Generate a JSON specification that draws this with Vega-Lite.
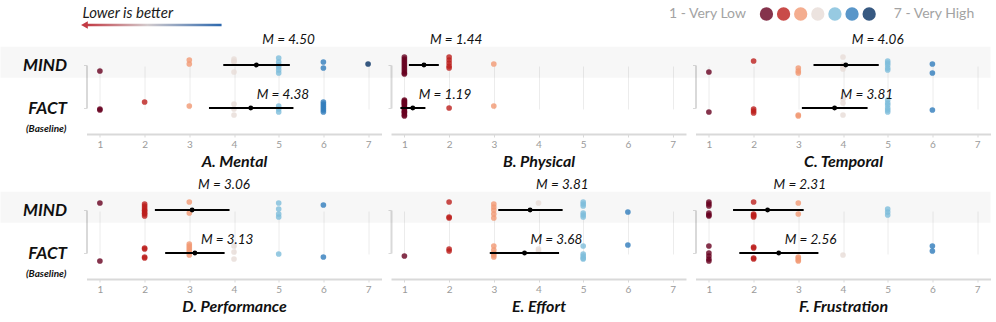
{
"$schema": "https://vega.github.io/schema/vega-lite/v6.json",
"autosize": {"type": "pad"},
"padding": {"left": -15.5, "top": 0, "right": 0, "bottom": 0},
"background": "white",
"datasets": {
"dots": [
{"p":"A","c":"MIND","v":1,"j":6},{"p":"A","c":"MIND","v":3,"j":-5},{"p":"A","c":"MIND","v":3,"j":-1},{"p":"A","c":"MIND","v":4,"j":-6},{"p":"A","c":"MIND","v":4,"j":-3},{"p":"A","c":"MIND","v":4,"j":-4},{"p":"A","c":"MIND","v":4,"j":7},{"p":"A","c":"MIND","v":5,"j":-7},{"p":"A","c":"MIND","v":5,"j":-3},{"p":"A","c":"MIND","v":5,"j":0},{"p":"A","c":"MIND","v":5,"j":2},{"p":"A","c":"MIND","v":5,"j":5},{"p":"A","c":"MIND","v":5,"j":8},{"p":"A","c":"MIND","v":6,"j":-3},{"p":"A","c":"MIND","v":6,"j":3},{"p":"A","c":"MIND","v":7,"j":-1},
{"p":"A","c":"FACT","v":1,"j":2},{"p":"A","c":"FACT","v":1,"j":1},{"p":"A","c":"FACT","v":2,"j":-6},{"p":"A","c":"FACT","v":3,"j":-2},{"p":"A","c":"FACT","v":4,"j":-4},{"p":"A","c":"FACT","v":4,"j":1},{"p":"A","c":"FACT","v":4,"j":7},{"p":"A","c":"FACT","v":5,"j":-2},{"p":"A","c":"FACT","v":5,"j":1},{"p":"A","c":"FACT","v":5,"j":4},{"p":"A","c":"FACT","v":6,"j":-6},{"p":"A","c":"FACT","v":6,"j":-4},{"p":"A","c":"FACT","v":6,"j":-2},{"p":"A","c":"FACT","v":6,"j":0},{"p":"A","c":"FACT","v":6,"j":2},{"p":"A","c":"FACT","v":6,"j":4},
{"p":"B","c":"MIND","v":1,"j":-8},{"p":"B","c":"MIND","v":1,"j":-6},{"p":"B","c":"MIND","v":1,"j":-4},{"p":"B","c":"MIND","v":1,"j":-2},{"p":"B","c":"MIND","v":1,"j":0},{"p":"B","c":"MIND","v":1,"j":2},{"p":"B","c":"MIND","v":1,"j":4},{"p":"B","c":"MIND","v":1,"j":6},{"p":"B","c":"MIND","v":1,"j":8},{"p":"B","c":"MIND","v":1,"j":9},{"p":"B","c":"MIND","v":2,"j":-8},{"p":"B","c":"MIND","v":2,"j":-5},{"p":"B","c":"MIND","v":2,"j":-2},{"p":"B","c":"MIND","v":2,"j":1},{"p":"B","c":"MIND","v":2,"j":3},{"p":"B","c":"MIND","v":3,"j":-1},
{"p":"B","c":"FACT","v":1,"j":-8},{"p":"B","c":"FACT","v":1,"j":-7},{"p":"B","c":"FACT","v":1,"j":-6},{"p":"B","c":"FACT","v":1,"j":-5},{"p":"B","c":"FACT","v":1,"j":-4},{"p":"B","c":"FACT","v":1,"j":-3},{"p":"B","c":"FACT","v":1,"j":-1},{"p":"B","c":"FACT","v":1,"j":0},{"p":"B","c":"FACT","v":1,"j":1},{"p":"B","c":"FACT","v":1,"j":3},{"p":"B","c":"FACT","v":1,"j":4},{"p":"B","c":"FACT","v":1,"j":5},{"p":"B","c":"FACT","v":1,"j":7},{"p":"B","c":"FACT","v":1,"j":8},{"p":"B","c":"FACT","v":2,"j":0},{"p":"B","c":"FACT","v":3,"j":-2},
{"p":"C","c":"MIND","v":1,"j":7},{"p":"C","c":"MIND","v":2,"j":-4},{"p":"C","c":"MIND","v":3,"j":3},{"p":"C","c":"MIND","v":3,"j":6},{"p":"C","c":"MIND","v":3,"j":8},{"p":"C","c":"MIND","v":4,"j":-8},{"p":"C","c":"MIND","v":4,"j":0},{"p":"C","c":"MIND","v":4,"j":2},{"p":"C","c":"MIND","v":4,"j":4},{"p":"C","c":"MIND","v":5,"j":-4},{"p":"C","c":"MIND","v":5,"j":-2},{"p":"C","c":"MIND","v":5,"j":0},{"p":"C","c":"MIND","v":5,"j":3},{"p":"C","c":"MIND","v":5,"j":5},{"p":"C","c":"MIND","v":6,"j":-1},{"p":"C","c":"MIND","v":6,"j":8},
{"p":"C","c":"FACT","v":1,"j":4},{"p":"C","c":"FACT","v":2,"j":1},{"p":"C","c":"FACT","v":2,"j":3},{"p":"C","c":"FACT","v":2,"j":5},{"p":"C","c":"FACT","v":3,"j":7},{"p":"C","c":"FACT","v":3,"j":8},{"p":"C","c":"FACT","v":4,"j":-9},{"p":"C","c":"FACT","v":4,"j":-5},{"p":"C","c":"FACT","v":4,"j":7},{"p":"C","c":"FACT","v":5,"j":-8},{"p":"C","c":"FACT","v":5,"j":-5},{"p":"C","c":"FACT","v":5,"j":-3},{"p":"C","c":"FACT","v":5,"j":0},{"p":"C","c":"FACT","v":5,"j":2},{"p":"C","c":"FACT","v":5,"j":4},{"p":"C","c":"FACT","v":6,"j":2},
{"p":"D","c":"MIND","v":1,"j":-7},{"p":"D","c":"MIND","v":2,"j":-6},{"p":"D","c":"MIND","v":2,"j":-4},{"p":"D","c":"MIND","v":2,"j":-2},{"p":"D","c":"MIND","v":2,"j":0},{"p":"D","c":"MIND","v":2,"j":1},{"p":"D","c":"MIND","v":2,"j":3},{"p":"D","c":"MIND","v":2,"j":4},{"p":"D","c":"MIND","v":2,"j":6},{"p":"D","c":"MIND","v":3,"j":-8},{"p":"D","c":"MIND","v":3,"j":3},{"p":"D","c":"MIND","v":5,"j":-7},{"p":"D","c":"MIND","v":5,"j":-1},{"p":"D","c":"MIND","v":5,"j":4},{"p":"D","c":"MIND","v":5,"j":7},{"p":"D","c":"MIND","v":6,"j":-5},
{"p":"D","c":"FACT","v":1,"j":8},{"p":"D","c":"FACT","v":2,"j":-5},{"p":"D","c":"FACT","v":2,"j":-4},{"p":"D","c":"FACT","v":2,"j":4},{"p":"D","c":"FACT","v":2,"j":5},{"p":"D","c":"FACT","v":3,"j":-9},{"p":"D","c":"FACT","v":3,"j":-7},{"p":"D","c":"FACT","v":3,"j":-5},{"p":"D","c":"FACT","v":3,"j":-3},{"p":"D","c":"FACT","v":3,"j":-1},{"p":"D","c":"FACT","v":3,"j":2},{"p":"D","c":"FACT","v":4,"j":-7},{"p":"D","c":"FACT","v":4,"j":-1},{"p":"D","c":"FACT","v":4,"j":6},{"p":"D","c":"FACT","v":5,"j":1},{"p":"D","c":"FACT","v":6,"j":4},
{"p":"E","c":"MIND","v":2,"j":-8},{"p":"E","c":"MIND","v":2,"j":7},{"p":"E","c":"MIND","v":2,"j":8},{"p":"E","c":"MIND","v":3,"j":-6},{"p":"E","c":"MIND","v":3,"j":-3},{"p":"E","c":"MIND","v":3,"j":0},{"p":"E","c":"MIND","v":3,"j":4},{"p":"E","c":"MIND","v":3,"j":8},{"p":"E","c":"MIND","v":4,"j":-7},{"p":"E","c":"MIND","v":5,"j":-8},{"p":"E","c":"MIND","v":5,"j":-6},{"p":"E","c":"MIND","v":5,"j":-4},{"p":"E","c":"MIND","v":5,"j":3},{"p":"E","c":"MIND","v":5,"j":5},{"p":"E","c":"MIND","v":5,"j":7},{"p":"E","c":"MIND","v":6,"j":2},
{"p":"E","c":"FACT","v":1,"j":3},{"p":"E","c":"FACT","v":2,"j":-4},{"p":"E","c":"FACT","v":2,"j":-2},{"p":"E","c":"FACT","v":3,"j":-7},{"p":"E","c":"FACT","v":3,"j":-3},{"p":"E","c":"FACT","v":3,"j":0},{"p":"E","c":"FACT","v":3,"j":2},{"p":"E","c":"FACT","v":3,"j":4},{"p":"E","c":"FACT","v":4,"j":-4},{"p":"E","c":"FACT","v":4,"j":-2},{"p":"E","c":"FACT","v":5,"j":-7},{"p":"E","c":"FACT","v":5,"j":1},{"p":"E","c":"FACT","v":5,"j":3},{"p":"E","c":"FACT","v":5,"j":5},{"p":"E","c":"FACT","v":5,"j":6},{"p":"E","c":"FACT","v":6,"j":-8},
{"p":"F","c":"MIND","v":1,"j":-8},{"p":"F","c":"MIND","v":1,"j":-6},{"p":"F","c":"MIND","v":1,"j":-4},{"p":"F","c":"MIND","v":1,"j":3},{"p":"F","c":"MIND","v":1,"j":5},{"p":"F","c":"MIND","v":1,"j":6},{"p":"F","c":"MIND","v":2,"j":-8},{"p":"F","c":"MIND","v":2,"j":4},{"p":"F","c":"MIND","v":2,"j":5},{"p":"F","c":"MIND","v":2,"j":6},{"p":"F","c":"MIND","v":2,"j":7},{"p":"F","c":"MIND","v":3,"j":-7},{"p":"F","c":"MIND","v":3,"j":4},{"p":"F","c":"MIND","v":5,"j":-1},{"p":"F","c":"MIND","v":5,"j":2},{"p":"F","c":"MIND","v":5,"j":5},
{"p":"F","c":"FACT","v":1,"j":-7},{"p":"F","c":"FACT","v":1,"j":0},{"p":"F","c":"FACT","v":1,"j":3},{"p":"F","c":"FACT","v":1,"j":6},{"p":"F","c":"FACT","v":1,"j":8},{"p":"F","c":"FACT","v":2,"j":-6},{"p":"F","c":"FACT","v":2,"j":-5},{"p":"F","c":"FACT","v":2,"j":5},{"p":"F","c":"FACT","v":2,"j":6},{"p":"F","c":"FACT","v":3,"j":4},{"p":"F","c":"FACT","v":3,"j":5},{"p":"F","c":"FACT","v":3,"j":7},{"p":"F","c":"FACT","v":3,"j":8},{"p":"F","c":"FACT","v":4,"j":2},{"p":"F","c":"FACT","v":6,"j":-7},{"p":"F","c":"FACT","v":6,"j":-2}
],
"stats": [
{"p":"A","c":"MIND","m":4.5,"lo":3.76,"hi":5.25,"lab":"M = 4.50"},
{"p":"A","c":"FACT","m":4.375,"lo":3.44,"hi":5.33,"lab":"M = 4.38"},
{"p":"B","c":"MIND","m":1.4375,"lo":1.1,"hi":1.77,"lab":"M = 1.44"},
{"p":"B","c":"FACT","m":1.1875,"lo":0.91,"hi":1.47,"lab":"M = 1.19"},
{"p":"C","c":"MIND","m":4.0625,"lo":3.34,"hi":4.8,"lab":"M = 4.06"},
{"p":"C","c":"FACT","m":3.8125,"lo":3.08,"hi":4.55,"lab":"M = 3.81"},
{"p":"D","c":"MIND","m":3.0625,"lo":2.23,"hi":3.9,"lab":"M = 3.06"},
{"p":"D","c":"FACT","m":3.125,"lo":2.46,"hi":3.79,"lab":"M = 3.13"},
{"p":"E","c":"MIND","m":3.8125,"lo":3.1,"hi":4.54,"lab":"M = 3.81"},
{"p":"E","c":"FACT","m":3.6875,"lo":2.91,"hi":4.46,"lab":"M = 3.68"},
{"p":"F","c":"MIND","m":2.3125,"lo":1.54,"hi":3.12,"lab":"M = 2.31"},
{"p":"F","c":"FACT","m":2.5625,"lo":1.68,"hi":3.45,"lab":"M = 2.56"}
]
},
"bounds": "flush",
"spacing": 10,
"vconcat": [
{
"width": 903, "height": 30,
"layer": [
{"data": {"values": [{"v":1},{"v":2},{"v":3},{"v":4},{"v":5},{"v":6},{"v":7}]},
 "mark": {"type": "circle", "size": 177, "opacity": 0.8},
 "encoding": {
  "x": {"field": "v", "type": "quantitative", "scale": {"domain": [-38.72, 14.03], "nice": false, "zero": false}, "axis": null},
  "y": {"datum": 14, "type": "quantitative", "scale": {"domain": [0, 30], "reverse": true, "nice": false, "zero": false}, "axis": null},
  "color": {"field": "v", "type": "ordinal", "scale": {"domain": [1,2,3,4,5,6,7], "range": ["#67001f","#bb1e1c","#f19873","#e7dcd7","#7dbddb","#307cbb","#053061"]}, "legend": null}}},
{"data": {"values": [{}]}, "mark": {"type": "text", "text": "1 - Very Low", "align": "right", "baseline": "middle", "fontSize": 14, "color": "#a3a3a3"},
 "encoding": {"x": {"datum": -0.2}, "y": {"datum": 14}}},
{"data": {"values": [{}]}, "mark": {"type": "text", "text": "7 - Very High", "align": "left", "baseline": "middle", "fontSize": 14, "color": "#a3a3a3"},
 "encoding": {"x": {"datum": 8.44}, "y": {"datum": 14}}},
{"data": {"values": [{}]}, "mark": {"type": "text", "text": "Lower is better", "align": "left", "baseline": "middle", "fontSize": 15, "fontStyle": "italic", "color": "#1a1a1a"},
 "encoding": {"x": {"datum": -38.95}, "y": {"datum": 12.5}}},
{"data": {"values": [{}]}, "mark": {"type": "rect", "color": {"gradient": "linear", "x1": 0, "y1": 0, "x2": 1, "y2": 0, "stops": [{"offset": 0, "color": "#c23a44"}, {"offset": 0.45, "color": "#d3cbcd"}, {"offset": 1, "color": "#2c68ae"}]}},
 "encoding": {"x": {"datum": -38.7}, "x2": {"datum": -30.83}, "y": {"datum": 23.7}, "y2": {"datum": 26.3}}},
{"data": {"values": [{}]}, "mark": {"type": "point", "shape": "triangle-left", "filled": true, "size": 60, "opacity": 1, "color": "#c23a44"},
 "encoding": {"x": {"datum": -38.84}, "y": {"datum": 25}}}
]
},
{
"bounds": "flush",
"columns": 3,
"spacing": {"row": 51, "column": 9.5},
"concat": [
{
"width": 295, "height": 94,
"encoding": {"y": {"field": "c", "type": "nominal", "title": null, "scale": {"type": "point", "domain": ["MIND","FACT"], "range": [25, 68], "padding": 0},
 "axis": {"labels": true, "labelFontSize": 17, "labelFontStyle": "italic", "labelFontWeight": "bold", "labelColor": "#111", "labelPadding": 17, "encode": {"labels": {"update": {"dy": {"signal": "datum.value === 'MIND' ? -4 : 5"}}}}}}},
"layer": [
{"data": {"values": [{}]}, "mark": {"type": "rule", "color": "#000", "opacity": 0.03, "strokeWidth": 31, "yOffset": -2.8}, "encoding": {"x": {"datum": -1.224}, "x2": {"datum": 7.3}, "y": {"datum": "MIND"}}},
{"data": {"name": "dots"}, "transform": [{"filter": "datum.p === 'A'"}], "mark": {"type": "circle", "size": 32, "opacity": 0.8},
 "encoding": {"x": {"field": "v", "type": "quantitative", "title": "A. Mental", "scale": {"domain": [0.7, 7.3], "nice": false, "zero": false}},
  "yOffset": {"field": "j", "type": "quantitative", "scale": {"domain": [-10, 10], "range": [-10, 10]}},
  "color": {"field": "v", "type": "ordinal", "scale": {"domain": [1,2,3,4,5,6,7], "range": ["#67001f","#bb1e1c","#f19873","#e7dcd7","#7dbddb","#307cbb","#053061"]}, "legend": null}}},
{"data": {"name": "stats"}, "transform": [{"filter": "datum.p === 'A'"}], "mark": {"type": "rule", "color": "#000", "strokeWidth": 2}, "encoding": {"x": {"field": "lo", "type": "quantitative", "title": "A. Mental"}, "x2": {"field": "hi"}}},
{"data": {"name": "stats"}, "transform": [{"filter": "datum.p === 'A'"}], "mark": {"type": "circle", "size": 24, "color": "#000", "opacity": 1}, "encoding": {"x": {"field": "m", "type": "quantitative", "title": "A. Mental"}}},
{"data": {"name": "stats"}, "transform": [{"filter": "datum.p === 'A' && datum.c === 'MIND'"}], "mark": {"type": "text", "align": "left", "dx": 6, "dy": -25, "fontStyle": "italic", "fontSize": 13.5, "color": "#111"}, "encoding": {"x": {"field": "m", "type": "quantitative", "title": "A. Mental"}, "text": {"field": "lab"}}},
{"data": {"name": "stats"}, "transform": [{"filter": "datum.p === 'A' && datum.c === 'FACT'"}], "mark": {"type": "text", "align": "left", "dx": 6, "dy": -13, "fontStyle": "italic", "fontSize": 13.5, "color": "#111"}, "encoding": {"x": {"field": "m", "type": "quantitative", "title": "A. Mental"}, "text": {"field": "lab"}}},
{"data": {"values": [{}]}, "mark": {"type": "text", "text": "(Baseline)", "align": "right", "dy": 21, "fontStyle": "italic", "fontWeight": "bold", "fontSize": 10, "color": "#111"}, "encoding": {"x": {"datum": 0.25}, "y": {"datum": "FACT"}}}
]
},
{
"width": 295, "height": 94,
"encoding": {"y": {"field": "c", "type": "nominal", "title": null, "scale": {"type": "point", "domain": ["MIND","FACT"], "range": [25, 68], "padding": 0}, "axis": {"labels": false}}},
"layer": [
{"data": {"values": [{}]}, "mark": {"type": "rule", "color": "#000", "opacity": 0.03, "strokeWidth": 31, "yOffset": -2.8}, "encoding": {"x": {"datum": 0.487}, "x2": {"datum": 7.3}, "y": {"datum": "MIND"}}},
{"data": {"name": "dots"}, "transform": [{"filter": "datum.p === 'B'"}], "mark": {"type": "circle", "size": 32, "opacity": 0.8},
 "encoding": {"x": {"field": "v", "type": "quantitative", "title": "B. Physical", "scale": {"domain": [0.7, 7.3], "nice": false, "zero": false}},
  "yOffset": {"field": "j", "type": "quantitative", "scale": {"domain": [-10, 10], "range": [-10, 10]}},
  "color": {"field": "v", "type": "ordinal", "scale": {"domain": [1,2,3,4,5,6,7], "range": ["#67001f","#bb1e1c","#f19873","#e7dcd7","#7dbddb","#307cbb","#053061"]}, "legend": null}}},
{"data": {"name": "stats"}, "transform": [{"filter": "datum.p === 'B'"}], "mark": {"type": "rule", "color": "#000", "strokeWidth": 2}, "encoding": {"x": {"field": "lo", "type": "quantitative", "title": "B. Physical"}, "x2": {"field": "hi"}}},
{"data": {"name": "stats"}, "transform": [{"filter": "datum.p === 'B'"}], "mark": {"type": "circle", "size": 24, "color": "#000", "opacity": 1}, "encoding": {"x": {"field": "m", "type": "quantitative", "title": "B. Physical"}}},
{"data": {"name": "stats"}, "transform": [{"filter": "datum.p === 'B' && datum.c === 'MIND'"}], "mark": {"type": "text", "align": "left", "dx": 6, "dy": -25, "fontStyle": "italic", "fontSize": 13.5, "color": "#111"}, "encoding": {"x": {"field": "m", "type": "quantitative", "title": "B. Physical"}, "text": {"field": "lab"}}},
{"data": {"name": "stats"}, "transform": [{"filter": "datum.p === 'B' && datum.c === 'FACT'"}], "mark": {"type": "text", "align": "left", "dx": 6, "dy": -13, "fontStyle": "italic", "fontSize": 13.5, "color": "#111"}, "encoding": {"x": {"field": "m", "type": "quantitative", "title": "B. Physical"}, "text": {"field": "lab"}}}
]
},
{
"width": 295, "height": 94,
"encoding": {"y": {"field": "c", "type": "nominal", "title": null, "scale": {"type": "point", "domain": ["MIND","FACT"], "range": [25, 68], "padding": 0}, "axis": {"labels": false}}},
"layer": [
{"data": {"values": [{}]}, "mark": {"type": "rule", "color": "#000", "opacity": 0.03, "strokeWidth": 31, "yOffset": -2.8}, "encoding": {"x": {"datum": 0.487}, "x2": {"datum": 7.3}, "y": {"datum": "MIND"}}},
{"data": {"name": "dots"}, "transform": [{"filter": "datum.p === 'C'"}], "mark": {"type": "circle", "size": 32, "opacity": 0.8},
 "encoding": {"x": {"field": "v", "type": "quantitative", "title": "C. Temporal", "scale": {"domain": [0.7, 7.3], "nice": false, "zero": false}},
  "yOffset": {"field": "j", "type": "quantitative", "scale": {"domain": [-10, 10], "range": [-10, 10]}},
  "color": {"field": "v", "type": "ordinal", "scale": {"domain": [1,2,3,4,5,6,7], "range": ["#67001f","#bb1e1c","#f19873","#e7dcd7","#7dbddb","#307cbb","#053061"]}, "legend": null}}},
{"data": {"name": "stats"}, "transform": [{"filter": "datum.p === 'C'"}], "mark": {"type": "rule", "color": "#000", "strokeWidth": 2}, "encoding": {"x": {"field": "lo", "type": "quantitative", "title": "C. Temporal"}, "x2": {"field": "hi"}}},
{"data": {"name": "stats"}, "transform": [{"filter": "datum.p === 'C'"}], "mark": {"type": "circle", "size": 24, "color": "#000", "opacity": 1}, "encoding": {"x": {"field": "m", "type": "quantitative", "title": "C. Temporal"}}},
{"data": {"name": "stats"}, "transform": [{"filter": "datum.p === 'C' && datum.c === 'MIND'"}], "mark": {"type": "text", "align": "left", "dx": 6, "dy": -25, "fontStyle": "italic", "fontSize": 13.5, "color": "#111"}, "encoding": {"x": {"field": "m", "type": "quantitative", "title": "C. Temporal"}, "text": {"field": "lab"}}},
{"data": {"name": "stats"}, "transform": [{"filter": "datum.p === 'C' && datum.c === 'FACT'"}], "mark": {"type": "text", "align": "left", "dx": 6, "dy": -13, "fontStyle": "italic", "fontSize": 13.5, "color": "#111"}, "encoding": {"x": {"field": "m", "type": "quantitative", "title": "C. Temporal"}, "text": {"field": "lab"}}}
]
},
{
"width": 295, "height": 94,
"encoding": {"y": {"field": "c", "type": "nominal", "title": null, "scale": {"type": "point", "domain": ["MIND","FACT"], "range": [25, 68], "padding": 0},
 "axis": {"labels": true, "labelFontSize": 17, "labelFontStyle": "italic", "labelFontWeight": "bold", "labelColor": "#111", "labelPadding": 17, "encode": {"labels": {"update": {"dy": {"signal": "datum.value === 'MIND' ? -4 : 5"}}}}}}},
"layer": [
{"data": {"values": [{}]}, "mark": {"type": "rule", "color": "#000", "opacity": 0.03, "strokeWidth": 31, "yOffset": -2.8}, "encoding": {"x": {"datum": -1.224}, "x2": {"datum": 7.3}, "y": {"datum": "MIND"}}},
{"data": {"name": "dots"}, "transform": [{"filter": "datum.p === 'D'"}], "mark": {"type": "circle", "size": 32, "opacity": 0.8},
 "encoding": {"x": {"field": "v", "type": "quantitative", "title": "D. Performance", "scale": {"domain": [0.7, 7.3], "nice": false, "zero": false}},
  "yOffset": {"field": "j", "type": "quantitative", "scale": {"domain": [-10, 10], "range": [-10, 10]}},
  "color": {"field": "v", "type": "ordinal", "scale": {"domain": [1,2,3,4,5,6,7], "range": ["#67001f","#bb1e1c","#f19873","#e7dcd7","#7dbddb","#307cbb","#053061"]}, "legend": null}}},
{"data": {"name": "stats"}, "transform": [{"filter": "datum.p === 'D'"}], "mark": {"type": "rule", "color": "#000", "strokeWidth": 2}, "encoding": {"x": {"field": "lo", "type": "quantitative", "title": "D. Performance"}, "x2": {"field": "hi"}}},
{"data": {"name": "stats"}, "transform": [{"filter": "datum.p === 'D'"}], "mark": {"type": "circle", "size": 24, "color": "#000", "opacity": 1}, "encoding": {"x": {"field": "m", "type": "quantitative", "title": "D. Performance"}}},
{"data": {"name": "stats"}, "transform": [{"filter": "datum.p === 'D' && datum.c === 'MIND'"}], "mark": {"type": "text", "align": "left", "dx": 6, "dy": -25, "fontStyle": "italic", "fontSize": 13.5, "color": "#111"}, "encoding": {"x": {"field": "m", "type": "quantitative", "title": "D. Performance"}, "text": {"field": "lab"}}},
{"data": {"name": "stats"}, "transform": [{"filter": "datum.p === 'D' && datum.c === 'FACT'"}], "mark": {"type": "text", "align": "left", "dx": 6, "dy": -13, "fontStyle": "italic", "fontSize": 13.5, "color": "#111"}, "encoding": {"x": {"field": "m", "type": "quantitative", "title": "D. Performance"}, "text": {"field": "lab"}}},
{"data": {"values": [{}]}, "mark": {"type": "text", "text": "(Baseline)", "align": "right", "dy": 21, "fontStyle": "italic", "fontWeight": "bold", "fontSize": 10, "color": "#111"}, "encoding": {"x": {"datum": 0.25}, "y": {"datum": "FACT"}}}
]
},
{
"width": 295, "height": 94,
"encoding": {"y": {"field": "c", "type": "nominal", "title": null, "scale": {"type": "point", "domain": ["MIND","FACT"], "range": [25, 68], "padding": 0}, "axis": {"labels": false}}},
"layer": [
{"data": {"values": [{}]}, "mark": {"type": "rule", "color": "#000", "opacity": 0.03, "strokeWidth": 31, "yOffset": -2.8}, "encoding": {"x": {"datum": 0.487}, "x2": {"datum": 7.3}, "y": {"datum": "MIND"}}},
{"data": {"name": "dots"}, "transform": [{"filter": "datum.p === 'E'"}], "mark": {"type": "circle", "size": 32, "opacity": 0.8},
 "encoding": {"x": {"field": "v", "type": "quantitative", "title": "E. Effort", "scale": {"domain": [0.7, 7.3], "nice": false, "zero": false}},
  "yOffset": {"field": "j", "type": "quantitative", "scale": {"domain": [-10, 10], "range": [-10, 10]}},
  "color": {"field": "v", "type": "ordinal", "scale": {"domain": [1,2,3,4,5,6,7], "range": ["#67001f","#bb1e1c","#f19873","#e7dcd7","#7dbddb","#307cbb","#053061"]}, "legend": null}}},
{"data": {"name": "stats"}, "transform": [{"filter": "datum.p === 'E'"}], "mark": {"type": "rule", "color": "#000", "strokeWidth": 2}, "encoding": {"x": {"field": "lo", "type": "quantitative", "title": "E. Effort"}, "x2": {"field": "hi"}}},
{"data": {"name": "stats"}, "transform": [{"filter": "datum.p === 'E'"}], "mark": {"type": "circle", "size": 24, "color": "#000", "opacity": 1}, "encoding": {"x": {"field": "m", "type": "quantitative", "title": "E. Effort"}}},
{"data": {"name": "stats"}, "transform": [{"filter": "datum.p === 'E' && datum.c === 'MIND'"}], "mark": {"type": "text", "align": "left", "dx": 6, "dy": -25, "fontStyle": "italic", "fontSize": 13.5, "color": "#111"}, "encoding": {"x": {"field": "m", "type": "quantitative", "title": "E. Effort"}, "text": {"field": "lab"}}},
{"data": {"name": "stats"}, "transform": [{"filter": "datum.p === 'E' && datum.c === 'FACT'"}], "mark": {"type": "text", "align": "left", "dx": 6, "dy": -13, "fontStyle": "italic", "fontSize": 13.5, "color": "#111"}, "encoding": {"x": {"field": "m", "type": "quantitative", "title": "E. Effort"}, "text": {"field": "lab"}}}
]
},
{
"width": 295, "height": 94,
"encoding": {"y": {"field": "c", "type": "nominal", "title": null, "scale": {"type": "point", "domain": ["MIND","FACT"], "range": [25, 68], "padding": 0}, "axis": {"labels": false}}},
"layer": [
{"data": {"values": [{}]}, "mark": {"type": "rule", "color": "#000", "opacity": 0.03, "strokeWidth": 31, "yOffset": -2.8}, "encoding": {"x": {"datum": 0.487}, "x2": {"datum": 7.3}, "y": {"datum": "MIND"}}},
{"data": {"name": "dots"}, "transform": [{"filter": "datum.p === 'F'"}], "mark": {"type": "circle", "size": 32, "opacity": 0.8},
 "encoding": {"x": {"field": "v", "type": "quantitative", "title": "F. Frustration", "scale": {"domain": [0.7, 7.3], "nice": false, "zero": false}},
  "yOffset": {"field": "j", "type": "quantitative", "scale": {"domain": [-10, 10], "range": [-10, 10]}},
  "color": {"field": "v", "type": "ordinal", "scale": {"domain": [1,2,3,4,5,6,7], "range": ["#67001f","#bb1e1c","#f19873","#e7dcd7","#7dbddb","#307cbb","#053061"]}, "legend": null}}},
{"data": {"name": "stats"}, "transform": [{"filter": "datum.p === 'F'"}], "mark": {"type": "rule", "color": "#000", "strokeWidth": 2}, "encoding": {"x": {"field": "lo", "type": "quantitative", "title": "F. Frustration"}, "x2": {"field": "hi"}}},
{"data": {"name": "stats"}, "transform": [{"filter": "datum.p === 'F'"}], "mark": {"type": "circle", "size": 24, "color": "#000", "opacity": 1}, "encoding": {"x": {"field": "m", "type": "quantitative", "title": "F. Frustration"}}},
{"data": {"name": "stats"}, "transform": [{"filter": "datum.p === 'F' && datum.c === 'MIND'"}], "mark": {"type": "text", "align": "left", "dx": 6, "dy": -25, "fontStyle": "italic", "fontSize": 13.5, "color": "#111"}, "encoding": {"x": {"field": "m", "type": "quantitative", "title": "F. Frustration"}, "text": {"field": "lab"}}},
{"data": {"name": "stats"}, "transform": [{"filter": "datum.p === 'F' && datum.c === 'FACT'"}], "mark": {"type": "text", "align": "left", "dx": 6, "dy": -13, "fontStyle": "italic", "fontSize": 13.5, "color": "#111"}, "encoding": {"x": {"field": "m", "type": "quantitative", "title": "F. Frustration"}, "text": {"field": "lab"}}}
]
}
]
}
],
"resolve": {"scale": {"color": "shared"}},
"config": {
 "font": "Lato",
 "view": {"stroke": null},
 "axis": {"domainColor": "#d9d9d9", "domainWidth": 2, "tickColor": "#d9d9d9", "tickSize": 3, "labelColor": "#9a9a9a", "labelFontSize": 10, "gridColor": "#ececec", "gridWidth": 1, "titleFontStyle": "italic", "titleFontWeight": "bold", "titleFontSize": 16, "titleColor": "#111"},
 "axisX": {"grid": true, "values": [1,2,3,4,5,6,7], "labelPadding": 2, "titlePadding": 4, "labelFlush": false},
 "axisY": {"grid": false}
}
}
